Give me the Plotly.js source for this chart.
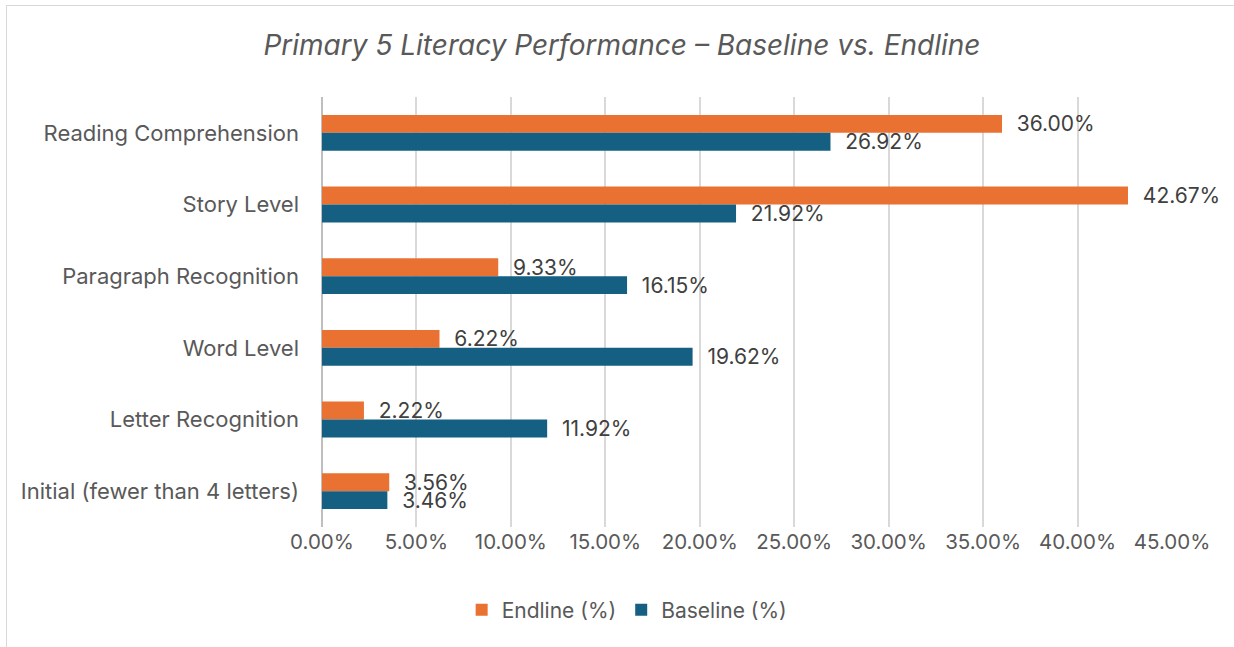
<!DOCTYPE html>
<html>
<head>
<meta charset="utf-8">
<script src="https://cdn.plot.ly/plotly-3.0.1.min.js"></script>
<style>
  html, body { margin: 0; padding: 0; background: #fff; }
  #frame { position: absolute; left: 6px; top: 5px; width: 1240px; height: 660px; border: 1.5px solid #d9d9d9; box-sizing: border-box; }
  #chart { position: absolute; left: 0; top: 0; width: 1234px; height: 647px; }
</style>
</head>
<body>
<div id="frame"></div>
<div id="chart"></div>
<script>
const categories = [
  'Reading Comprehension',
  'Story Level',
  'Paragraph Recognition',
  'Word Level',
  'Letter Recognition',
  'Initial (fewer than 4 letters)'
];
const endline = [0.36, 0.4267, 0.0933, 0.0622, 0.0222, 0.0356];
const baseline = [0.2692, 0.2192, 0.1615, 0.1962, 0.1192, 0.0346];
const xTicks = [0, 0.05, 0.10, 0.15, 0.20, 0.25, 0.30, 0.35, 0.40, 0.45];

const font = 'Inter, "Open Sans", sans-serif';

function barTrace(name, values, color) {
  return {
    type: 'bar',
    orientation: 'h',
    name: name,
    y: categories,
    x: values,
    marker: { color: color },
    text: values.map(v => '  ' + (v * 100).toFixed(2) + '%'),
    textposition: 'outside',
    constraintext: 'none',
    cliponaxis: false,
    textfont: { family: font, size: 21, color: '#404040' },
    hoverinfo: 'x+y'
  };
}

const traces = [
  barTrace('Endline (%)', endline, '#E97132'),
  barTrace('Baseline (%)', baseline, '#156082')
];

const layout = {
  width: 1234,
  height: 647,
  paper_bgcolor: 'rgba(0,0,0,0)',
  plot_bgcolor: 'rgba(0,0,0,0)',
  font: { family: font, color: '#595959', size: 20 },
  title: {
    text: '<i>Primary 5 Literacy Performance – Baseline vs. Endline</i>',
    font: { family: font, size: 28, color: '#595959' },
    x: 0.504,
    xanchor: 'center',
    y: 0.93,
    yanchor: 'middle'
  },
  barmode: 'group',
  bargap: 0.5,
  bargroupgap: 0,
  margin: { l: 322, r: 62, t: 97, b: 120 },
  xaxis: {
    range: [0, 0.45],
    tickvals: xTicks,
    tickformat: '.2%',
    showgrid: true,
    gridcolor: '#d9d9d9',
    gridwidth: 1.5,
    zeroline: true,
    zerolinecolor: '#bfbfbf',
    zerolinewidth: 1.5,
    showline: false,
    ticks: '',
    tickfont: { family: font, size: 20.5, color: '#595959' }
  },
  yaxis: {
    type: 'category',
    autorange: 'reversed',
    showgrid: false,
    showline: false,
    ticks: '',
    ticklabelstandoff: 22,
    tickfont: { family: font, size: 22, color: '#595959' }
  },
  showlegend: true,
  legend: {
    orientation: 'h',
    x: 0.359,
    xanchor: 'center',
    y: -0.193,
    yanchor: 'middle',
    itemwidth: 30,
    font: { family: font, size: 21, color: '#595959' }
  }
};

Plotly.newPlot('chart', traces, layout, { displayModeBar: false });
</script>
</body>
</html>
